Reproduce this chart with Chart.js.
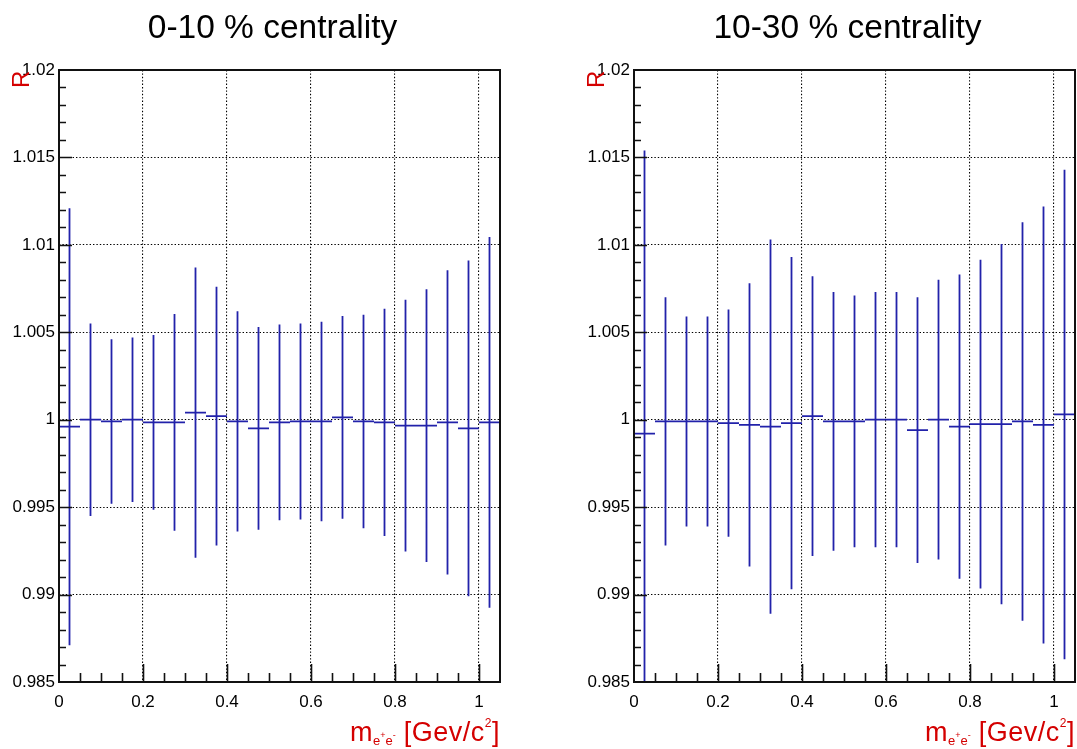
<!DOCTYPE html>
<html>
<head>
<meta charset="utf-8">
<script src="https://cdn.jsdelivr.net/npm/chart.js@4.4.1/dist/chart.umd.min.js"></script>
<style>
  body { margin: 0; background: #fff; }
  #wrap { position: relative; width: 1077px; height: 749px; overflow: hidden; font-family: "Liberation Sans", Arial, sans-serif; }
  .pad { position: absolute; top: 0; width: 502px; height: 749px; }
  .pad canvas { position: absolute; left: 0; top: 0; }
  .title { position: absolute; left: 0; width: 545px; top: 10px; text-align: center; font-size: 33.5px; line-height: 33px; color: #000; white-space: nowrap; }
  .ytitle { position: absolute; left: 9px; top: 88px; transform: rotate(-90deg); transform-origin: 0 0; font-size: 24px; line-height: 24px; color: #d40000; }
  .xtitle { position: absolute; right: 2px; top: 719px; font-size: 27px; line-height: 27px; color: #d40000; white-space: nowrap; letter-spacing: 0.5px; }
  .sub { font-size: 13px; position: relative; top: 4px; letter-spacing: 0; }
  .sub .sup { font-size: 9px; position: relative; top: -7px; }
  .sup2 { font-size: 12px; position: relative; top: -14px; }
</style>
</head>
<body>
<div id="wrap">
  <div class="pad" style="left:0">
    <canvas id="c1" width="502" height="749"></canvas>
    <div class="title">0-10 % centrality</div>
    <div class="ytitle">R</div>
    <div class="xtitle">m<span class="sub">e<span class="sup">+</span>e<span class="sup">-</span></span> [Gev/c<span class="sup2">2</span>]</div>
  </div>
  <div class="pad" style="left:575px">
    <canvas id="c2" width="502" height="749"></canvas>
    <div class="title">10-30 % centrality</div>
    <div class="ytitle">R</div>
    <div class="xtitle">m<span class="sub">e<span class="sup">+</span>e<span class="sup">-</span></span> [Gev/c<span class="sup2">2</span>]</div>
  </div>
</div>
<script>
// bins of 0.05 GeV/c^2
const binWidth = 0.05
const binCenters = [0.025, 0.075, 0.125, 0.175, 0.225, 0.275, 0.325, 0.375, 0.425, 0.475, 0.525,
                    0.575, 0.625, 0.675, 0.725, 0.775, 0.825, 0.875, 0.925, 0.975, 1.025]

// 0-10 % centrality
const ratioCentral = [0.9996, 1.0000, 0.9999, 1.0000, 0.99985, 0.99985, 1.0004, 1.0002, 0.9999, 0.9995, 0.99985,
                      0.9999, 0.9999, 1.00013, 0.9999, 0.99985, 0.99966, 0.99966, 0.99985, 0.9995, 0.99985]
const errCentral = [0.0125, 0.0055, 0.0047, 0.0047, 0.0050, 0.0062, 0.0083, 0.0074, 0.0063, 0.0058, 0.0056,
                    0.0056, 0.0057, 0.0058, 0.0061, 0.0065, 0.0072, 0.0078, 0.0087, 0.0096, 0.0106]

// 10-30 % centrality
const ratioMid = [0.9992, 0.9999, 0.9999, 0.9999, 0.9998, 0.9997, 0.9996, 0.9998, 1.0002, 0.9999, 0.9999,
                  1.0000, 1.0000, 0.9994, 1.0000, 0.9996, 0.99975, 0.99975, 0.9999, 0.9997, 1.0003]
const errMid = [0.0162, 0.0071, 0.0060, 0.0060, 0.0065, 0.0081, 0.0107, 0.0095, 0.0080, 0.0074, 0.0072,
                0.0073, 0.0073, 0.0076, 0.0080, 0.0087, 0.0094, 0.0103, 0.0114, 0.0125, 0.0140]

const xTicks = [0, 0.2, 0.4, 0.6, 0.8, 1]
const yTicks = [0.985, 0.99, 0.995, 1, 1.005, 1.01, 1.015, 1.02]

const BLUE = "#2222aa"
const fmt = (v) => String(+Number(v).toFixed(3))

Chart.defaults.font.family = "'Liberation Sans', Arial, sans-serif"
Chart.defaults.font.size = 17
Chart.defaults.color = "#000"

// ROOT style frame with inward ticks
const rootFrame = {
    id: "rootFrame",
    afterDraw(chart) {
        const { ctx, chartArea: a, scales: { x, y } } = chart
        ctx.save()
        ctx.strokeStyle = "#111"
        ctx.lineWidth = 1.6
        ctx.beginPath()
        for (let k = 1; k < 21; k++) {
            const px = Math.round(x.getPixelForValue(k * 0.05)) + 0.5
            const len = k % 4 === 0 ? 18 : 9
            ctx.moveTo(px, a.bottom)
            ctx.lineTo(px, a.bottom - len)
        }
        for (let k = 1; k < 35; k++) {
            const py = Math.round(y.getPixelForValue(0.985 + k * 0.001)) + 0.5
            const len = k % 5 === 0 ? 13 : 7
            ctx.moveTo(a.left, py)
            ctx.lineTo(a.left + len, py)
        }
        ctx.stroke()
        ctx.lineWidth = 2
        ctx.strokeRect(a.left, a.top, a.right - a.left, a.bottom - a.top)
        ctx.restore()
    }
}

function makeChart(id, values, errors) {
    const bars = []
    const steps = []
    binCenters.forEach((c, i) => {
        bars.push({ x: c, y: values[i] - errors[i] }, { x: c, y: values[i] + errors[i] }, { x: c, y: null })
        steps.push({ x: c - binWidth / 2, y: values[i] }, { x: c + binWidth / 2, y: values[i] }, { x: c, y: null })
    })
    const line = { showLine: true, borderColor: BLUE, borderWidth: 1.8, pointRadius: 0, spanGaps: false, tension: 0 }
    return new Chart(document.getElementById(id), {
        type: "scatter",
        data: {
            datasets: [
                { ...line, data: bars },
                { ...line, data: steps }
            ]
        },
        options: {
            responsive: false,
            animation: false,
            devicePixelRatio: 1,
            layout: { padding: { top: 70, right: 2, left: 0, bottom: 0 } },
            plugins: { legend: { display: false }, tooltip: { enabled: false } },
            scales: {
                x: {
                    type: "linear",
                    min: 0,
                    max: 1.05,
                    afterFit: (s) => { s.height = 67 },
                    afterBuildTicks: (s) => { s.ticks = xTicks.map((v) => ({ value: v })) },
                    ticks: { padding: 10, callback: fmt, maxRotation: 0, autoSkip: false },
                    grid: { color: "#000", lineWidth: 1.1, drawTicks: false },
                    border: { display: false, dash: [1.4, 2] }
                },
                y: {
                    type: "linear",
                    min: 0.985,
                    max: 1.02,
                    afterFit: (s) => { s.width = 59 },
                    afterBuildTicks: (s) => { s.ticks = yTicks.map((v) => ({ value: v })) },
                    ticks: { padding: 4, callback: fmt, autoSkip: false },
                    grid: { color: "#000", lineWidth: 1.1, drawTicks: false },
                    border: { display: false, dash: [1.4, 2] }
                }
            }
        },
        plugins: [rootFrame]
    })
}

makeChart("c1", ratioCentral, errCentral)
makeChart("c2", ratioMid, errMid)
</script>
</body>
</html>
